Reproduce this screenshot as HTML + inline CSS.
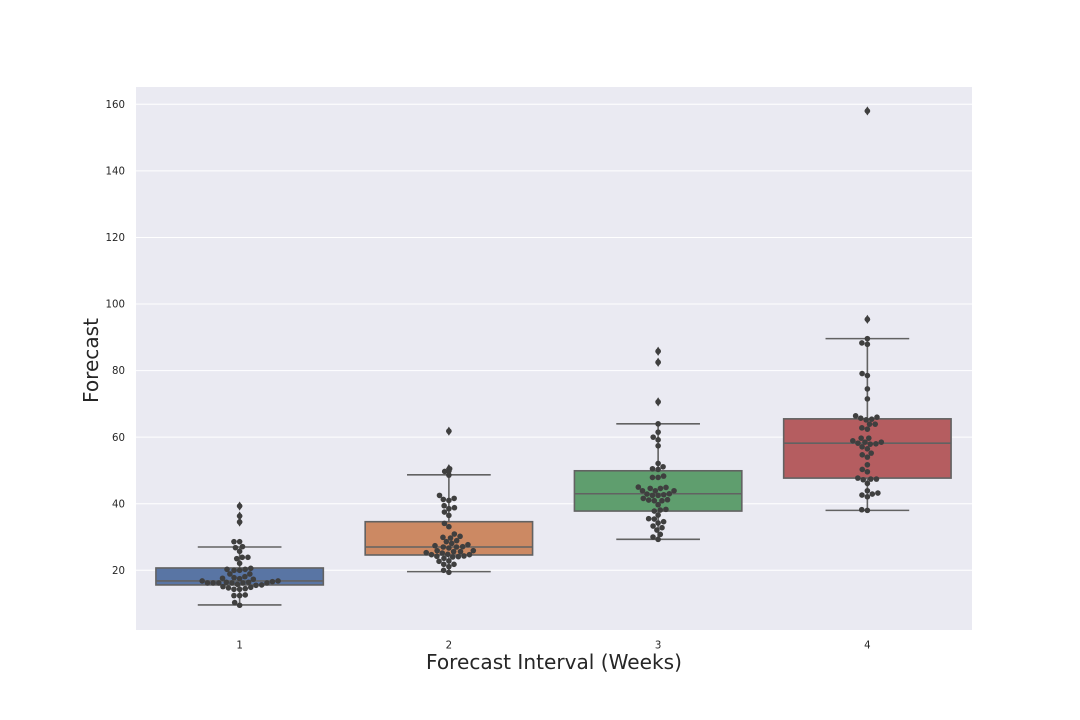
<!DOCTYPE html>
<html lang="en">
<head>
<meta charset="utf-8">
<title>Forecast by Forecast Interval</title>
<style>
html,body{margin:0;padding:0;background:#fff;width:1080px;height:720px;overflow:hidden}
svg{display:block;font-family:"DejaVu Sans","Liberation Sans",sans-serif}
</style>
</head>
<body>
<svg id="chart" xmlns="http://www.w3.org/2000/svg" width="1080" height="720" viewBox="0 0 1080 720">
  <rect x="0" y="0" width="1080" height="720" fill="#ffffff"/>
  <rect x="136" y="87" width="836" height="543" fill="#eaeaf2"/>
  <g id="grid"></g>
  <g id="boxes"></g>
  <g id="swarm"></g>
  <g id="fliers"></g>
  <g id="ytick-labels"></g>
  <g id="xtick-labels"></g>
  <text x="554" y="669" font-size="20.1" fill="#262626" text-anchor="middle">Forecast Interval (Weeks)</text>
  <text transform="translate(98,360.5) rotate(-90)" font-size="20.1" fill="#262626" text-anchor="middle">Forecast</text>
</svg>
<script>
const categories = ["1", "2", "3", "4"];
const yTicks = [20, 40, 60, 80, 100, 120, 140, 160];
const boxColors = ["#5975a4", "#cc8963", "#5f9e6e", "#b55d60"];
const boxQ1 = [15.6, 24.6, 37.8, 47.7];
const boxMedian = [16.8, 27.0, 43.0, 58.2];
const boxQ3 = [20.7, 34.6, 49.9, 65.5];
const whiskerLow = [9.6, 19.6, 29.3, 38.0];
const whiskerHigh = [27.0, 48.7, 64.0, 89.6];
const outliers1 = [39.3, 36.3, 34.5];
const outliers2 = [61.8, 50.5, 49.7];
const outliers3 = [85.8, 82.5, 70.6];
const outliers4 = [158.0, 95.4];
const forecasts1 = [39.3,36.3,34.5,28.6,28.6,26.8,27.1,25.7,23.9,23.5,23.9,22.1,20.6,20.0,20.0,20.3,20.3,18.1,18.9,18.9,17.6,17.8,17.3,17.5,16.6,16.2,16.8,16.4,16.4,15.8,16.2,16.2,15.6,15.1,14.7,14.3,14.3,14.5,14.9,15.5,16.2,16.2,16.2,16.8,12.4,12.4,12.6,10.3,9.5];
const forecasts2 = [61.8,50.5,49.7,48.6,42.5,41.6,41.3,41.0,39.4,38.8,38.5,37.5,36.5,34.1,33.1,30.9,30.2,29.9,29.7,28.9,28.6,28.1,27.7,27.1,27.4,27.0,26.7,27.0,25.9,25.6,25.2,24.7,25.3,25.9,25.6,24.7,24.2,23.6,24.1,24.0,24.3,24.8,22.7,22.8,21.8,21.8,21.1,20.0,19.4];
const forecasts3 = [85.8,82.5,70.6,64.0,61.5,60.0,59.2,57.4,52.1,51.1,50.3,50.5,47.9,47.9,48.3,45.0,44.6,44.6,44.9,43.9,43.9,43.9,43.0,42.7,42.5,42.5,42.9,41.6,41.2,40.9,40.9,41.1,39.7,38.3,37.8,38.1,36.6,35.5,35.4,34.6,34.2,33.3,32.8,32.1,30.8,30.0,29.3];
const forecasts4 = [158.0,95.4,89.6,88.3,87.9,79.1,78.5,74.5,71.5,66.4,66.0,65.7,65.4,65.2,63.9,63.9,62.8,62.4,59.7,59.7,58.9,58.5,58.5,58.2,58.0,57.9,57.1,56.5,55.2,54.7,54.0,51.7,50.3,49.6,47.7,47.4,47.4,47.2,46.1,43.9,43.2,42.9,42.6,42.1,38.2,38.0];

const allForecasts = [forecasts1, forecasts2, forecasts3, forecasts4];
const allOutliers = [outliers1, outliers2, outliers3, outliers4];

const SVGNS = "http://www.w3.org/2000/svg";
const plotLeft = 135, plotRight = 972;
const BOX_HALF = 0.4, CAP_HALF = 0.2;
const DOT_R = 2.8, SWARM_D = 5.4;
const LINE = "#626262", DOT = "#3f3f3f";

function xScale(i) { return plotLeft + (i + 0.5) / categories.length * (plotRight - plotLeft); }
function xSpan(u) { return u / categories.length * (plotRight - plotLeft); }
function yScale(v) { return 570.3 - (v - 20) * 3.3286; }

function make(tag, attrs) {
  const el = document.createElementNS(SVGNS, tag);
  for (const k in attrs) el.setAttribute(k, attrs[k]);
  return el;
}

function beeswarm(values, midX, d) {
  const sorted = values.slice().sort((a, b) => a - b);
  const placed = [];
  sorted.forEach(function (v) {
    const y = yScale(v);
    const neighbors = placed.filter(p => Math.abs(p.y - y) < d);
    let cands = [midX];
    neighbors.forEach(function (p) {
      const dy = y - p.y;
      const dx = Math.sqrt(d * d - dy * dy) * 1.05;
      cands.push(p.x - dx, p.x + dx);
    });
    cands = cands.map((x, idx) => ({ x: x, idx: idx }))
      .sort((a, b) => (Math.abs(a.x - midX) - Math.abs(b.x - midX)) || (a.idx - b.idx));
    let chosen = midX;
    for (const c of cands) {
      const ok = neighbors.every(p => (c.x - p.x) * (c.x - p.x) + (y - p.y) * (y - p.y) >= d * d - 1e-6);
      if (ok) { chosen = c.x; break; }
    }
    placed.push({ x: chosen, y: y });
  });
  return placed;
}

const gridG = document.getElementById("grid");
const boxesG = document.getElementById("boxes");
const swarmG = document.getElementById("swarm");
const fliersG = document.getElementById("fliers");
const yLabelsG = document.getElementById("ytick-labels");
const xLabelsG = document.getElementById("xtick-labels");

yTicks.forEach(function (t) {
  const line = make("line", { x1: 136, x2: 972, y1: yScale(t), y2: yScale(t), stroke: "#ffffff", "stroke-width": 1 });
  
  
  gridG.appendChild(line);
  const label = make("text", { x: 125, y: yScale(t) + 3.6, "font-size": 10.2, fill: "#262626", "text-anchor": "end" });
  
  
  label.textContent = String(t);
  yLabelsG.appendChild(label);
});

categories.forEach(function (cat, i) {
  const cx = xScale(i);

  const label = make("text", { x: cx, y: 648.5, "font-size": 10.2, fill: "#262626", "text-anchor": "middle" });
  
  
  label.textContent = cat;
  xLabelsG.appendChild(label);

  const g = make("g", {});
  
  
  boxesG.appendChild(g);

  const whiskers = [[boxQ3[i], whiskerHigh[i]], [boxQ1[i], whiskerLow[i]]];
  whiskers.forEach(function (w) {
    const wl = make("line", { x1: cx, x2: cx, y1: yScale(w[0]), y2: yScale(w[1]), stroke: LINE, "stroke-width": 1.6 });
    
    
    g.appendChild(wl);
    const cap = make("line", { x1: cx - xSpan(CAP_HALF), x2: cx + xSpan(CAP_HALF), y1: yScale(w[1]), y2: yScale(w[1]), stroke: LINE, "stroke-width": 1.6 });
    
    
    g.appendChild(cap);
  });

  const top = yScale(boxQ3[i]), bottom = yScale(boxQ1[i]);
  const rect = make("rect", { x: cx - xSpan(BOX_HALF), y: top, width: xSpan(BOX_HALF) * 2, height: bottom - top, fill: boxColors[i], stroke: LINE, "stroke-width": 1.6 });
  
  
  g.appendChild(rect);

  const med = make("line", { x1: cx - xSpan(BOX_HALF), x2: cx + xSpan(BOX_HALF), y1: yScale(boxMedian[i]), y2: yScale(boxMedian[i]), stroke: LINE, "stroke-width": 1.6 });
  
  
  g.appendChild(med);

  allOutliers[i].forEach(function (v) {
    const y = yScale(v);
    const pts = [[cx, y - 4.6], [cx + 2.9, y], [cx, y + 4.6], [cx - 2.9, y]].map(p => p.join(",")).join(" ");
    const flier = make("polygon", { points: pts, fill: DOT });
    
    
    fliersG.appendChild(flier);
  });

  beeswarm(allForecasts[i], cx, SWARM_D).forEach(function (p) {
    const dot = make("circle", { cx: p.x, cy: p.y, r: DOT_R, fill: DOT });
    
    
    swarmG.appendChild(dot);
  });
});
</script>
</body>
</html>
